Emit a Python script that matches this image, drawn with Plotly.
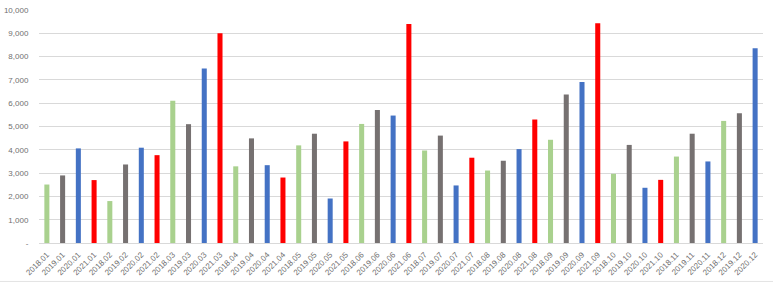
import plotly.graph_objects as go

labels = [
    "2018.01", "2019.01", "2020.01", "2021.01",
    "2018.02", "2019.02", "2020.02", "2021.02",
    "2018.03", "2019.03", "2020.03", "2021.03",
    "2018.04", "2019.04", "2020.04", "2021.04",
    "2018.05", "2019.05", "2020.05", "2021.05",
    "2018.06", "2019.06", "2020.06", "2021.06",
    "2018.07", "2019.07", "2020.07", "2021.07",
    "2018.08", "2019.08", "2020.08", "2021.08",
    "2018.09", "2019.09", "2020.09", "2021.09",
    "2018.10", "2019.10", "2020.10", "2021.10",
    "2018.11", "2019.11", "2020.11",
    "2018.12", "2019.12", "2020.12",
]
values = [
    2510, 2900, 4060, 2700,
    1800, 3370, 4090, 3770,
    6100, 5100, 7490, 9000,
    3290, 4490, 3340, 2810,
    4190, 4690, 1910, 4360,
    5110, 5710, 5470, 9400,
    3970, 4610, 2470, 3660,
    3110, 3530, 4030, 5300,
    4430, 6370, 6910, 9430,
    2970, 4210, 2370, 2710,
    3710, 4690, 3500,
    5240, 5570, 8360,
]
year_colors = {"2018": "#A9D18E", "2019": "#767171", "2020": "#4472C4", "2021": "#FF0000"}
colors = [year_colors[l[:4]] for l in labels]

ytick_vals = list(range(0, 10001, 1000))
ytick_text = ["-"] + [f"{v:,}" for v in ytick_vals[1:]]

fig = go.Figure(go.Bar(x=labels, y=values, marker=dict(color=colors, line=dict(width=0))))

fig.update_layout(
    width=773, height=282,
    margin=dict(l=39, r=10, t=10, b=39),
    paper_bgcolor="white", plot_bgcolor="white",
    bargap=0.68,
    showlegend=False,
    font=dict(family="Liberation Sans, Arial", size=8, color="#707070"),
    shapes=[dict(type="line", xref="paper", yref="paper", x0=-0.06, x1=1.02, y0=-0.165, y1=-0.165,
                 line=dict(color="#e3e3e3", width=1))],
)
fig.update_xaxes(
    type="category", tickangle=-45, tickfont=dict(size=8, color="#707070"),
    automargin=False,
    showgrid=False, showline=True, linecolor="#d9d9d9", linewidth=1,
    ticks="outside", ticklen=3, tickcolor="rgba(0,0,0,0)",
)
fig.update_yaxes(
    range=[0, 10000], tickmode="array", tickvals=ytick_vals, ticktext=ytick_text,
    automargin=False,
    showgrid=True, gridcolor="#d9d9d9", gridwidth=1, zeroline=False,
    ticks="outside", ticklen=8, tickcolor="rgba(0,0,0,0)",
    tickfont=dict(size=8, color="#707070"),
)

fig.write_html("out.html")
